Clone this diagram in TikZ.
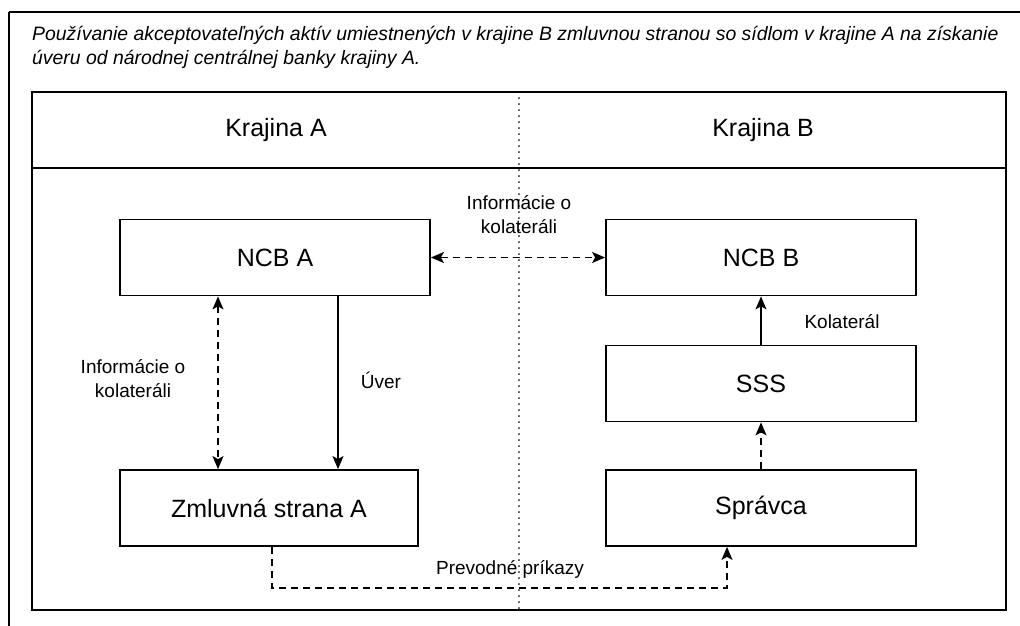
\documentclass[tikz,border=0pt]{standalone}
\usepackage{fontspec}
\setmainfont{Liberation Sans}
\usetikzlibrary{arrows.meta}
\tikzset{
  box/.style={draw, line width=1.8pt, minimum width=#1, minimum height=76pt, inner sep=0pt, font=\fontsize{25}{28}\selectfont},
  lbl/.style={font=\fontsize{19}{24}\selectfont, align=center, inner sep=0pt},
  arr/.style={line width=1.2pt, -{Stealth[length=13pt,width=11pt,inset=3pt]}},
  darr/.style={arr, dash pattern=on 7pt off 5pt},
  dbl/.style={line width=1.2pt, dash pattern=on 7pt off 5pt, {Stealth[length=13pt,width=11pt,inset=3pt]}-{Stealth[length=13pt,width=11pt,inset=3pt]}},
  frame/.style={draw, line width=2pt}
}
\begin{document}
\begin{tikzpicture}[x=1pt,y=-1pt]
\useasboundingbox (0,0) rectangle (1020,626);
% outer frame (right and bottom edges beyond the page)
\draw[frame] (9,12) -- (1030,12);
\draw[frame] (9,12) -- (9,640);
% title
\node[anchor=north west, inner sep=0pt, align=left, font=\itshape\fontsize{19.4}{24}\selectfont] (title) at (32,26.5)
 {Používanie akceptovateľných aktív umiestnených v krajine B zmluvnou stranou so sídlom v krajine A na získanie\\úveru od národnej centrálnej banky krajiny A.};
% inner frame
\draw[frame] (32,92) rectangle (1006,610);
\draw[frame] (32,168) -- (1006,168);
\draw[line width=1.6pt, dash pattern=on 0.1pt off 5.9pt, line cap=round] (519,92) -- (519,610);
\node[font=\fontsize{25}{28}\selectfont] (ka) at (276,130) {Krajina A};
\node[font=\fontsize{25}{28}\selectfont] (kb) at (763,130) {Krajina B};
% boxes
\node[box=310pt] (ncba) at (275,257.5) {NCB A};
\node[box=298pt] (zml) at (269,508) {Zmluvná strana A};
\node[box=310pt] (ncbb) at (761,257.5) {NCB B};
\node[box=310pt] (sss) at (761,383.5) {SSS};
\node[box=310pt] (spr) at (761,508) {Správca};
% helper coordinates
\coordinate (xl) at (218,0);
\coordinate (xu) at (338,0);
\coordinate (p1) at (272,588);
\coordinate (p2) at (727,588);
% connectors
\draw[dbl] (ncba.east) -- (ncbb.west);
\draw[dbl] (xl |- ncba.south) -- (xl |- zml.north);
\draw[arr] (xu |- ncba.south) -- (xu |- zml.north);
\draw[arr] (sss.north) -- (ncbb.south);
\draw[darr] (spr.north) -- (sss.south);
\draw[darr] (zml.south -| p1) -- (p1) -- (p2) -- (p2 |- spr.south);
% labels
\node[lbl] (l1) at (519,215) {Informácie o\\kolateráli};
\node[lbl] (l2) at (133,379) {Informácie o\\kolateráli};
\node[lbl] (l3) at (381,380) {Úver};
\node[lbl] (l4) at (842,322) {Kolaterál};
\node[lbl] (l5) at (510,569) {Prevodné príkazy};
\end{tikzpicture}
\end{document}
